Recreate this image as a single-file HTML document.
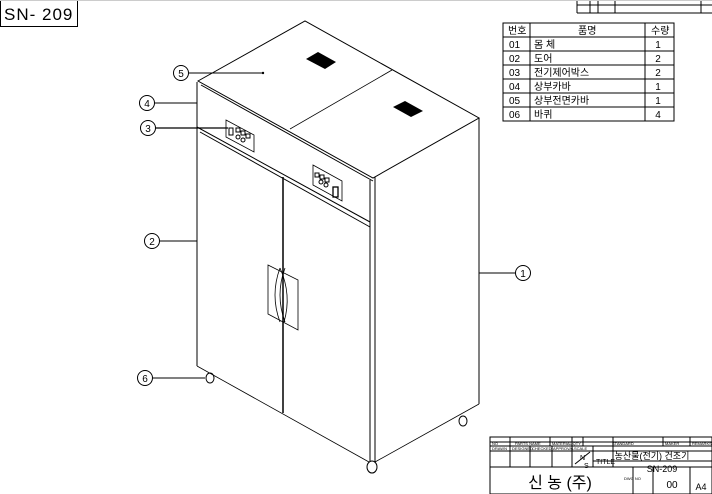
<!DOCTYPE html>
<html><head><meta charset="utf-8"><style>
html,body{margin:0;padding:0;background:#fff;width:712px;height:494px;overflow:hidden}
svg{display:block}
text{font-family:"Liberation Sans","Noto Sans CJK KR",sans-serif;fill:#000}
</style></head><body>
<svg width="712" height="494" viewBox="0 0 712 494" xmlns="http://www.w3.org/2000/svg">
<g fill="none" stroke="#000" stroke-width="1">
<!-- title box -->
<rect x="0.5" y="0.5" width="77" height="26"/>
<!-- cabinet top -->
<polygon points="198,81 305,21 479,118 373,178"/>
<line x1="201" y1="85" x2="373" y2="181"/>
<line x1="290" y1="129" x2="392" y2="70" stroke-width="0.8"/>
<!-- front face -->
<line x1="197" y1="82" x2="197" y2="366"/>
<line x1="197" y1="366" x2="369" y2="462" stroke-width="0.8"/>
<line x1="370" y1="180" x2="370" y2="462"/>
<line x1="375" y1="177" x2="375" y2="462"/>
<line x1="197" y1="127" x2="370" y2="222"/>
<line x1="200" y1="132" x2="370" y2="227"/>
<line x1="283" y1="177" x2="283" y2="413" stroke-width="1.5"/>
<!-- right side -->
<line x1="479" y1="118" x2="479" y2="404"/>
<line x1="375" y1="462" x2="479" y2="404" stroke-width="0.8"/>
<!-- handle -->
<polygon points="268,265 298,280 298,330 268,314" stroke-width="0.8"/>
<path d="M280,268 Q270,295 280,322 M285,268 Q275,295 285,322 M280,268 Q292,295 284,322" stroke-width="0.8"/>
<!-- control panels -->
<polygon points="226,120 254,135 254,152 226,137" stroke-width="0.8"/>
<rect x="229" y="128" width="4" height="7"/>
<rect x="236" y="128" width="4" height="4"/><rect x="241" y="131" width="4" height="4"/><rect x="246" y="134" width="4" height="4"/>
<circle cx="238" cy="137" r="2"/><circle cx="243" cy="140" r="2"/>
<polygon points="313,165 342,181 342,201 313,185" stroke-width="0.8"/>
<rect x="315" y="173" width="4" height="4"/><rect x="320" y="175" width="4" height="4"/><rect x="325" y="178" width="4" height="4"/>
<circle cx="321" cy="182" r="2"/><circle cx="326" cy="185" r="2"/>
<rect x="333" y="187" width="5" height="10" stroke-width="1.3"/>
<!-- wheels -->
<g stroke-width="1"><ellipse cx="210" cy="378" rx="4" ry="5"/><ellipse cx="372" cy="467" rx="5" ry="6"/><ellipse cx="463" cy="421" rx="4" ry="5"/></g>
<!-- leaders -->
<line x1="189" y1="73" x2="262" y2="73"/>
<line x1="155" y1="103" x2="197" y2="103"/>
<line x1="156" y1="128" x2="228" y2="128" stroke-width="1.2"/>
<line x1="160" y1="241" x2="197" y2="241"/>
<line x1="153" y1="378" x2="205" y2="378"/>
<line x1="479" y1="273" x2="515" y2="273"/>
<circle cx="181" cy="73" r="7.5"/><circle cx="147" cy="103" r="7.5"/><circle cx="148" cy="128" r="7.5"/>
<circle cx="152" cy="241" r="7.5"/><circle cx="145" cy="378" r="7.5"/><circle cx="523" cy="273" r="7.5"/>
<!-- parts table -->
<rect x="503" y="23" width="171" height="98"/>
<line x1="530" y1="23" x2="530" y2="121"/><line x1="645" y1="23" x2="645" y2="121"/>
<line x1="503" y1="37" x2="674" y2="37"/><line x1="503" y1="51" x2="674" y2="51"/><line x1="503" y1="65" x2="674" y2="65"/>
<line x1="503" y1="79" x2="674" y2="79"/><line x1="503" y1="93" x2="674" y2="93"/><line x1="503" y1="107" x2="674" y2="107"/>
<!-- revision table -->
<path d="M577,0 V13 M577,5 H712 M577,13 H712 M590,0 V13 M598,0 V13 M615,0 V13 M701,0 V13"/>
<!-- title block -->
<rect x="490" y="437" width="222" height="57"/>
<path d="M490,442 H712 M490,446 H712 M490,451 H712 M490,467 H712 M593,461 H712"/>
<path d="M510,437 V446 M550,437 V446 M572,437 V446 M583,437 V446 M613,437 V446 M663,437 V446 M690,437 V446"/>
<path d="M510,446 V467 M530,446 V467 M552,446 V467 M572,446 V467 M593,446 V467 M613,446 V467"/>
<path d="M633,467 V494 M653,467 V494 M690,467 V494"/>
<line x1="575" y1="464" x2="590" y2="452"/>
</g>
<line x1="0" y1="0.5" x2="712" y2="0.5" stroke="#ccc"/>
<!-- vents -->
<polygon points="306,59 318,52 336,62 325,69" fill="#000"/>
<polygon points="393,107 405,101 423,111 411,117" fill="#000"/>
<circle cx="263" cy="73" r="1.2" fill="#000"/>
<text x="4" y="20" font-size="17" letter-spacing="1">SN- 209</text>
<g font-size="10" text-anchor="middle">
<text x="181" y="77">5</text><text x="147" y="107">4</text><text x="148" y="132">3</text>
<text x="152" y="245">2</text><text x="145" y="382">6</text><text x="523" y="277">1</text>
</g>
<g font-size="10">
<text x="508" y="34">번호</text><text x="578" y="34">품명</text><text x="651" y="34">수량</text>
<text x="509" y="48">01</text><text x="534" y="48">몸 체</text>
<text x="509" y="62">02</text><text x="534" y="62">도어</text>
<text x="509" y="76">03</text><text x="534" y="76">전기제어박스</text>
<text x="509" y="90">04</text><text x="534" y="90">상부카바</text>
<text x="509" y="104">05</text><text x="534" y="104">상부전면카바</text>
<text x="509" y="118">06</text><text x="534" y="118">바퀴</text>
</g>
<g font-size="10" text-anchor="middle">
<text x="658" y="48">1</text><text x="658" y="62">2</text><text x="658" y="76">2</text>
<text x="658" y="90">1</text><text x="658" y="104">1</text><text x="658" y="118">4</text>
</g>
<g font-size="4">
<text x="492" y="445">NO</text><text x="515" y="445">PARTS NAME</text><text x="552" y="445">MATERIAL QTY</text>
<text x="612" y="445">STANDARD</text><text x="665" y="445">MAKER</text><text x="692" y="445">REMARKS</text>
<text x="492" y="450">DRAWN</text><text x="512" y="450">DESIGNED</text><text x="532" y="450">CHECKED</text><text x="553" y="450">APPROVAL</text><text x="574" y="450">SCALE</text>
<text x="624" y="480">DWG NO</text>
</g>
<text x="580" y="460" font-size="7">N</text><text x="584" y="468" font-size="7">S</text>
<text x="596" y="464" font-size="7">TITLE</text>
<text x="652" y="459" font-size="9" text-anchor="middle">농산물(전기) 건조기</text>
<text x="662" y="472" font-size="9" text-anchor="middle">SN-209</text>
<text x="560" y="488" font-size="16" text-anchor="middle">신 농 (주)</text>
<text x="672" y="488" font-size="10" text-anchor="middle">00</text>
<text x="701" y="490" font-size="9" text-anchor="middle">A4</text>
</svg>
</body></html>
